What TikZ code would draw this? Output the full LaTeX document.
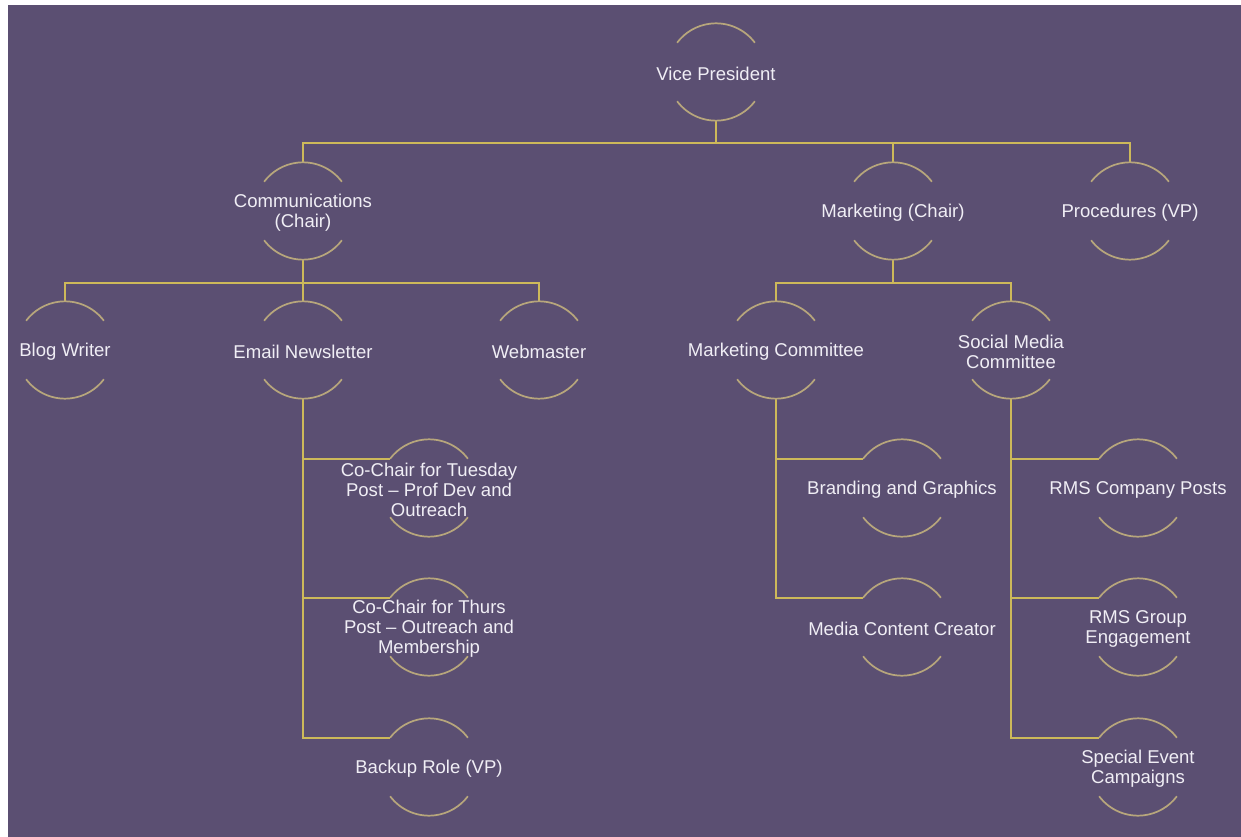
\documentclass[tikz,border=0pt]{standalone}
\usepackage{fontspec}
\setmainfont{Liberation Sans}
\definecolor{bgpurple}{HTML}{5B4F72}
\definecolor{arcgold}{HTML}{B7A67C}
\definecolor{linegold}{HTML}{CDB95A}
\definecolor{txtwhite}{HTML}{F0EEF5}
\tikzset{
  role/.style={circle, minimum size=73pt, inner sep=0pt, outer sep=0pt},
  roletext/.style={text=txtwhite, align=center, yshift=-1.5pt, font=\fontsize{13.9}{15}\selectfont},
  link/.style={draw=linegold, line width=1.5pt},
  rim/.style={draw=arcgold, line width=1.3pt}
}
\begin{document}
\begin{tikzpicture}[x=0.75pt,y=0.75pt]
\useasboundingbox (0,0) rectangle (1241,-837);
\fill[bgpurple] (8,-5) rectangle (1241,-837);
% top
\node[role, label={[roletext]center:Vice President}] (vp) at (716,-72) {};
\node[role, label={[roletext]center:Communications\\(Chair)}] (comm) at (303,-211) {};
\node[role, label={[roletext]center:Marketing (Chair)}] (mkt) at (893,-211) {};
\node[role, label={[roletext]center:Procedures (VP)}] (proc) at (1130,-211) {};
% second row
\node[role, label={[roletext]center:Blog Writer}] (blog) at (65,-350) {};
\node[role, label={[roletext]center:Email Newsletter}] (email) at (303,-350) {};
\node[role, label={[roletext]center:Webmaster}] (web) at (539,-350) {};
\node[role, label={[roletext]center:Marketing Committee}] (mcom) at (776,-350) {};
\node[role, label={[roletext]center:Social Media\\Committee}] (smc) at (1011,-350) {};
% email newsletter roles
\node[role, label={[roletext]center:Co-Chair for Tuesday\\Post – Prof Dev and\\Outreach}] (tue) at (429,-488) {};
\node[role, label={[roletext]center:Co-Chair for Thurs\\Post – Outreach and\\Membership}] (thu) at (429,-627) {};
\node[role, label={[roletext]center:Backup Role (VP)}] (backup) at (429,-767) {};
% marketing committee roles
\node[role, label={[roletext]center:Branding and Graphics}] (brand) at (902,-488) {};
\node[role, label={[roletext]center:Media Content Creator}] (media) at (902,-627) {};
% social media roles
\node[role, label={[roletext]center:RMS Company Posts}] (rmsc) at (1138,-488) {};
\node[role, label={[roletext]center:RMS Group\\Engagement}] (rmsg) at (1138,-627) {};
\node[role, label={[roletext]center:Special Event\\Campaigns}] (spec) at (1138,-767) {};

% connectors
\draw[link] (vp.south) -- ++(0,-22) coordinate (bus1);
\draw[link] (comm.north) |- (bus1) -| (proc.north);
\draw[link] (mkt.north) -- (mkt.north |- bus1);
\draw[link] (comm.south) -- ++(0,-23) coordinate (bus2);
\draw[link] (blog.north) |- (bus2) -| (web.north);
\draw[link] (email.north) -- (email.north |- bus2);
\draw[link] (mkt.south) -- ++(0,-23) coordinate (bus3);
\draw[link] (mcom.north) |- (bus3) -| (smc.north);
\draw[link] (email.south) |- (backup.143);
\foreach \c in {tue,thu}
  \draw[link] (email.south |- \c.143) -- (\c.143);
\draw[link] (mcom.south) |- (media.143);
\draw[link] (mcom.south |- brand.143) -- (brand.143);
\draw[link] (smc.south) |- (spec.143);
\foreach \c in {rmsc,rmsg}
  \draw[link] (smc.south |- \c.143) -- (\c.143);

% half rims
\foreach \n in {vp,comm,mkt,proc,blog,email,web,mcom,smc,tue,thu,backup,brand,media,rmsc,rmsg,spec}
  \draw[rim] (\n.37) arc[start angle=37,end angle=143,radius=36.5pt]
             (\n.217) arc[start angle=217,end angle=323,radius=36.5pt];
\end{tikzpicture}
\end{document}
